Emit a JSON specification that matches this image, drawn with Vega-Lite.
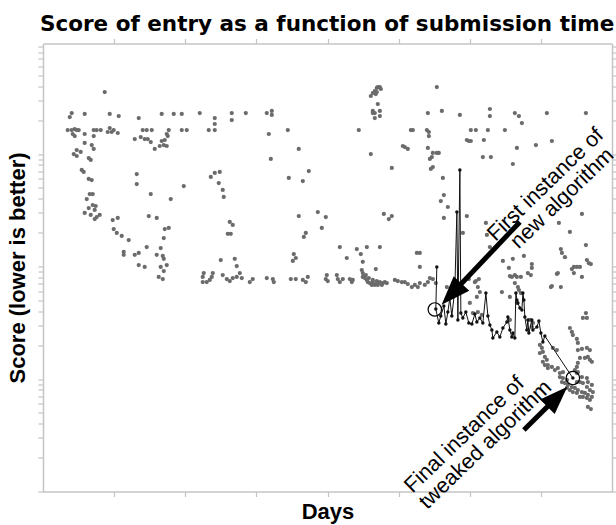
{
"$schema":"https://vega.github.io/schema/vega-lite/v6.json",
"width":569,"height":448,
"autosize":{"type":"none"},
"padding":{"left":43,"top":43.5,"right":4,"bottom":33.5},
"background":"white",
"config":{"view":{"stroke":null},"axis":{"domainColor":"#c4c4c4","domainWidth":1.5,"tickColor":"#c4c4c4","tickWidth":1.2,"labels":false,"grid":false,"titleFont":"Liberation Sans","titleFontSize":22,"titleFontWeight":"bold","titleColor":"#000"}},
"title":{"text":"Score of entry as a function of submission time","anchor":"start","frame":"group","font":"DejaVu Sans","fontSize":21.5,"fontWeight":"bold","color":"#000","baseline":"alphabetic","offset":-15,"dx":-3},
"datasets":{
"gray":[
{"d":0.868,"s":3557},{"d":0.376,"s":2132},{"d":0.404,"s":2314},{"d":0.586,"s":2268},{"d":0.938,"s":2268},{"d":1.065,"s":2176},{"d":1.346,"s":2089},{"d":1.669,"s":2268},{"d":1.838,"s":2268},{"d":1.951,"s":2268},{"d":2.204,"s":2314},{"d":2.415,"s":2089},{"d":2.415,"s":1848},{"d":2.415,"s":1634},{"d":2.654,"s":2314},{"d":2.654,"s":2005},
{"d":0.347,"s":1634},{"d":0.404,"s":1634},{"d":0.446,"s":1668},{"d":0.474,"s":1634},{"d":0.502,"s":1634},{"d":0.418,"s":1506},{"d":0.446,"s":1445},{"d":0.586,"s":1506},{"d":0.713,"s":1634},{"d":0.755,"s":1634},{"d":0.812,"s":1634},{"d":0.713,"s":1445},{"d":0.938,"s":1702},{"d":0.910,"s":1569},{"d":0.966,"s":1569},{"d":0.994,"s":1634},{"d":1.051,"s":1537},{"d":1.290,"s":1359},{"d":1.374,"s":1416},{"d":1.402,"s":1634},{"d":1.458,"s":1634},{"d":1.529,"s":1634},{"d":1.430,"s":1359},{"d":1.473,"s":1359},{"d":1.515,"s":1278},{"d":1.571,"s":1108},{"d":1.641,"s":1178},{"d":1.669,"s":1305},{"d":1.712,"s":1332},{"d":1.740,"s":1506},{"d":1.768,"s":1634},{"d":1.754,"s":1445},{"d":1.698,"s":1202},{"d":1.740,"s":1178},{"d":1.951,"s":1634},{"d":2.021,"s":1634},{"d":2.330,"s":1634},
{"d":0.586,"s":1253},{"d":0.685,"s":1202},{"d":0.713,"s":1108},{"d":0.474,"s":1085},{"d":0.432,"s":1000},{"d":0.530,"s":1042},{"d":0.474,"s":960},{"d":0.643,"s":921},{"d":0.671,"s":885},{"d":0.544,"s":721},{"d":0.572,"s":692},{"d":0.643,"s":600},{"d":0.685,"s":587},{"d":0.657,"s":441},{"d":0.699,"s":441},{"d":0.615,"s":398},{"d":0.643,"s":331},{"d":0.699,"s":352},{"d":0.741,"s":345},{"d":0.727,"s":318},{"d":0.586,"s":299},{"d":0.671,"s":287},{"d":0.727,"s":264},{"d":0.755,"s":275},{"d":0.797,"s":287},{"d":1.318,"s":664},{"d":1.318,"s":541},{"d":1.979,"s":519},{"d":1.515,"s":441},{"d":1.796,"s":398},{"d":2.359,"s":625},{"d":2.415,"s":678},{"d":2.485,"s":692},{"d":2.471,"s":552},{"d":2.527,"s":479},{"d":2.541,"s":415},
{"d":0.980,"s":259},{"d":1.051,"s":270},{"d":0.994,"s":215},{"d":1.037,"s":199},{"d":1.107,"s":187},{"d":1.205,"s":172},{"d":1.487,"s":281},{"d":1.599,"s":270},{"d":1.712,"s":215},{"d":1.768,"s":220},{"d":1.698,"s":179},{"d":1.458,"s":149},{"d":1.655,"s":146},{"d":2.626,"s":249},{"d":2.668,"s":234},{"d":2.598,"s":195},{"d":2.640,"s":195},
{"d":1.135,"s":135},{"d":1.135,"s":127},{"d":1.290,"s":127},{"d":1.346,"s":132},{"d":1.346,"s":103},{"d":1.430,"s":99},{"d":1.599,"s":127},{"d":1.684,"s":124},{"d":1.698,"s":117},{"d":1.740,"s":103},{"d":1.655,"s":99},{"d":1.698,"s":91},{"d":1.627,"s":80.7},{"d":1.684,"s":77.4},{"d":2.499,"s":114},{"d":2.696,"s":117},{"d":2.724,"s":101},{"d":2.260,"s":87.5},{"d":2.246,"s":80.7},{"d":2.246,"s":72.8},{"d":2.302,"s":72.8},{"d":2.345,"s":75.9},{"d":2.373,"s":80.7},{"d":2.387,"s":87.5},{"d":2.527,"s":84.0},{"d":2.584,"s":77.4},{"d":2.626,"s":74.3},{"d":2.668,"s":79.0},{"d":2.724,"s":80.7},
{"d":2.851,"s":2314},{"d":3.146,"s":2314},{"d":3.217,"s":2412},{"d":3.217,"s":2222},{"d":3.175,"s":1506},{"d":3.442,"s":1634},{"d":3.203,"s":903},{"d":3.596,"s":1108},{"d":3.456,"s":612},{"d":3.653,"s":575},{"d":3.737,"s":706},
{"d":4.609,"s":3278},{"d":4.637,"s":3485},{"d":4.665,"s":3631},{"d":4.693,"s":3862},{"d":4.707,"s":3940},{"d":4.736,"s":3940},{"d":4.750,"s":3783},{"d":4.693,"s":3557},{"d":4.679,"s":3414},{"d":4.707,"s":2782},{"d":4.637,"s":2412},{"d":4.665,"s":2314},{"d":4.736,"s":2412},{"d":4.736,"s":2176},{"d":4.665,"s":2089},{"d":4.637,"s":2314},
{"d":4.440,"s":1634},{"d":4.609,"s":1000},{"d":4.904,"s":751},{"d":5.172,"s":1634},{"d":5.200,"s":1634},{"d":5.059,"s":1178},{"d":5.087,"s":1154},{"d":5.129,"s":1108},
{"d":3.596,"s":281},{"d":3.864,"s":305},{"d":3.976,"s":275},{"d":3.920,"s":220},{"d":3.667,"s":183},{"d":3.695,"s":199},{"d":4.792,"s":293},{"d":4.862,"s":264},{"d":4.904,"s":281},
{"d":3.526,"s":129},{"d":3.554,"s":119},{"d":3.512,"s":112},{"d":4.173,"s":149},{"d":4.271,"s":119},{"d":4.412,"s":143},{"d":4.468,"s":129},{"d":4.496,"s":110},{"d":4.553,"s":149},{"d":4.736,"s":149},{"d":4.679,"s":95},{"d":5.256,"s":132},{"d":5.298,"s":132},{"d":5.298,"s":99},
{"d":5.537,"s":3940},{"d":5.411,"s":2314},{"d":5.608,"s":2412},{"d":5.861,"s":2222},{"d":6.283,"s":2512},{"d":6.283,"s":2176},{"d":6.634,"s":2314},{"d":6.691,"s":2176},{"d":6.733,"s":1886},{"d":7.084,"s":2314},{"d":7.633,"s":2314},
{"d":5.397,"s":1634},{"d":5.425,"s":1569},{"d":5.425,"s":1445},{"d":6.015,"s":1634},{"d":6.086,"s":1634},{"d":6.255,"s":1634},{"d":6.494,"s":1634},{"d":5.959,"s":1332},{"d":5.987,"s":1305},{"d":6.015,"s":1305},{"d":6.198,"s":1332},
{"d":5.411,"s":1131},{"d":5.481,"s":1021},{"d":5.537,"s":1021},{"d":5.565,"s":1021},{"d":5.467,"s":940},{"d":5.439,"s":903},{"d":5.481,"s":766},{"d":5.453,"s":736},
{"d":6.184,"s":940},{"d":6.297,"s":940},{"d":6.663,"s":1131},{"d":6.930,"s":1202},{"d":7.155,"s":1305},{"d":6.606,"s":815},
{"d":5.622,"s":612},{"d":5.636,"s":432},{"d":5.593,"s":382},{"d":5.692,"s":338},{"d":5.636,"s":270},{"d":5.903,"s":199},{"d":5.959,"s":281},{"d":6.227,"s":244},{"d":7.253,"s":244},{"d":7.577,"s":293},{"d":7.408,"s":203},{"d":7.633,"s":155},
{"d":7.281,"s":143},{"d":7.296,"s":132},{"d":7.338,"s":121},{"d":7.436,"s":95},{"d":7.464,"s":99},{"d":7.506,"s":99},{"d":7.549,"s":99},{"d":7.464,"s":87.5},{"d":7.647,"s":114},{"d":7.675,"s":107},{"d":7.703,"s":105},
{"d":6.466,"s":112},{"d":6.606,"s":117},{"d":6.761,"s":124},{"d":6.550,"s":97},{"d":6.634,"s":84.0},{"d":6.663,"s":80.7},{"d":6.719,"s":80.7},{"d":6.873,"s":105},{"d":6.873,"s":97},{"d":6.817,"s":87.5},{"d":6.859,"s":84.0},{"d":7.239,"s":87.5},{"d":7.577,"s":80.7},
{"d":5.987,"s":77.4},{"d":6.086,"s":74.3},{"d":6.128,"s":77.4},{"d":7.141,"s":65.7},{"d":6.283,"s":149},{"d":6.241,"s":191},{"d":7.281,"s":65.7},{"d":7.225,"s":85.8},{"d":7.155,"s":67.1},
{"d":2.767,"s":87.5},{"d":2.795,"s":79.0},{"d":2.907,"s":72.8},{"d":2.949,"s":77.4},{"d":3.146,"s":79.0},{"d":3.231,"s":77.4},{"d":3.245,"s":72.8},{"d":3.484,"s":77.4},{"d":3.554,"s":77.4},{"d":3.653,"s":75.9},{"d":3.723,"s":80.7},{"d":3.695,"s":72.8},{"d":3.990,"s":84.0},{"d":3.976,"s":77.4},{"d":4.004,"s":74.3},{"d":4.131,"s":84.0},{"d":4.145,"s":77.4},{"d":4.173,"s":72.8},{"d":4.215,"s":77.4},{"d":4.314,"s":77.4},{"d":4.342,"s":72.8},{"d":4.356,"s":75.9},
{"d":4.482,"s":93},{"d":4.496,"s":87.5},{"d":4.496,"s":80.7},{"d":4.525,"s":79.0},{"d":4.553,"s":75.9},{"d":4.567,"s":72.8},{"d":4.595,"s":71.3},{"d":4.623,"s":68.5},{"d":4.637,"s":72.8},{"d":4.665,"s":68.5},{"d":4.693,"s":71.3},{"d":4.707,"s":68.5},{"d":4.736,"s":72.8},{"d":4.764,"s":68.5},{"d":4.778,"s":71.3},{"d":4.806,"s":72.8},{"d":4.834,"s":71.3},{"d":4.539,"s":84.0},{"d":4.581,"s":79.0},{"d":4.637,"s":75.9},{"d":4.693,"s":74.3},
{"d":4.947,"s":75.9},{"d":4.989,"s":74.3},{"d":5.045,"s":72.8},{"d":5.087,"s":72.8},{"d":5.129,"s":69.9},{"d":5.186,"s":65.7},{"d":5.228,"s":68.5},{"d":5.270,"s":65.7},{"d":5.298,"s":71.3},{"d":5.368,"s":68.5},{"d":5.411,"s":72.8},{"d":5.439,"s":79.0},{"d":5.481,"s":77.4},{"d":5.523,"s":71.3},
{"d":5.678,"s":65.7},{"d":5.748,"s":58.1},{"d":6.072,"s":72.8},{"d":6.114,"s":65.7},{"d":6.142,"s":59.3},{"d":6.100,"s":53.6},{"d":6.001,"s":47.4},{"d":6.044,"s":38.6},{"d":6.114,"s":39.4},{"d":6.170,"s":37.1},{"d":6.452,"s":59.3},{"d":6.564,"s":53.6},{"d":6.663,"s":47.4},{"d":6.592,"s":80.7},{"d":6.634,"s":71.3},{"d":6.677,"s":65.7},{"d":6.564,"s":33.5},{"d":6.564,"s":82.3},{"d":6.691,"s":61.8},{"d":6.719,"s":58.1},{"d":6.845,"s":33.5},{"d":6.888,"s":31.5},{"d":6.873,"s":29.0},
{"d":7.633,"s":38.6},{"d":7.591,"s":34.9},{"d":7.647,"s":34.9},{"d":7.408,"s":28.4},{"d":7.436,"s":26.2},{"d":7.450,"s":24.6},{"d":7.506,"s":22.7},{"d":7.520,"s":20.9},{"d":7.520,"s":18.1},{"d":7.577,"s":18.5},{"d":7.647,"s":18.9},{"d":7.689,"s":18.1},{"d":7.661,"s":15.7},{"d":7.619,"s":15.4},{"d":7.689,"s":14.8},{"d":7.717,"s":14.2},{"d":7.549,"s":15.4},{"d":7.520,"s":13.9},{"d":7.506,"s":12.8},{"d":7.478,"s":12.0},{"d":7.520,"s":11.5},
{"d":6.986,"s":20.1},{"d":7.014,"s":18.9},{"d":7.028,"s":17.4},{"d":6.986,"s":17.0},{"d":7.056,"s":15.7},{"d":7.084,"s":14.8},{"d":7.028,"s":14.2},{"d":7.056,"s":13.3},{"d":7.098,"s":13.3},{"d":7.155,"s":12.8},{"d":7.098,"s":12.5},{"d":7.197,"s":12.0},{"d":7.239,"s":12.5},{"d":7.267,"s":11.3},{"d":7.310,"s":11.5},{"d":7.169,"s":18.9},{"d":7.225,"s":18.1},
{"d":7.267,"s":10.4},{"d":7.310,"s":10.2},{"d":7.366,"s":9.80},{"d":7.296,"s":9.40},{"d":7.338,"s":9.21},{"d":7.380,"s":8.85},{"d":7.436,"s":8.49},{"d":7.478,"s":8.32},{"d":7.520,"s":7.98},{"d":7.577,"s":7.66},{"d":7.619,"s":7.51},{"d":7.661,"s":7.21},{"d":7.717,"s":6.92},{"d":7.689,"s":7.98},{"d":7.647,"s":8.49},{"d":7.591,"s":9.21},{"d":7.549,"s":9.40},{"d":7.506,"s":9.40},{"d":7.647,"s":10.2},{"d":7.661,"s":9.40},{"d":7.717,"s":8.85},{"d":7.689,"s":6.51},{"d":7.647,"s":6.78},{"d":7.591,"s":6.92},{"d":7.549,"s":6.92},{"d":7.506,"s":7.51},{"d":7.450,"s":7.66},{"d":7.408,"s":7.98},{"d":7.366,"s":8.32},{"d":7.731,"s":7.66},{"d":7.661,"s":5.64},{"d":7.577,"s":10.4},{"d":7.506,"s":11.3},{"d":7.703,"s":5.41}
],
"line":[
{"i":1,"d":5.537,"s":99},{"i":2,"d":5.523,"s":41.9},{"i":3,"d":5.565,"s":31.5},{"i":4,"d":5.593,"s":36.3},{"i":5,"d":5.636,"s":44.6},{"i":6,"d":5.664,"s":30.8},{"i":7,"d":5.692,"s":39.4},{"i":8,"d":5.720,"s":52.5},{"i":9,"d":5.748,"s":36.3},{"i":10,"d":5.790,"s":61.8},{"i":11,"d":5.819,"s":305},{"i":12,"d":5.833,"s":33.5},{"i":13,"d":5.861,"s":721},{"i":14,"d":5.875,"s":38.6},{"i":15,"d":5.903,"s":34.9},{"i":16,"d":5.945,"s":39.4},{"i":17,"d":5.987,"s":31.5},{"i":18,"d":6.030,"s":30.8},{"i":19,"d":6.072,"s":37.8},{"i":20,"d":6.100,"s":32.1},{"i":21,"d":6.142,"s":34.9},{"i":22,"d":6.184,"s":31.5},{"i":23,"d":6.227,"s":58.1},{"i":24,"d":6.255,"s":36.3},{"i":25,"d":6.283,"s":30.2},{"i":26,"d":6.311,"s":27.3},{"i":27,"d":6.325,"s":23.1},{"i":28,"d":6.381,"s":26.2},{"i":29,"d":6.423,"s":23.6},{"i":30,"d":6.466,"s":28.4},{"i":31,"d":6.522,"s":32.1},{"i":32,"d":6.536,"s":35.6},{"i":33,"d":6.564,"s":27.3},{"i":34,"d":6.592,"s":23.6},{"i":35,"d":6.606,"s":25.6},{"i":36,"d":6.634,"s":23.1},{"i":37,"d":6.649,"s":58.1},{"i":38,"d":6.663,"s":50.4},{"i":39,"d":6.677,"s":47.4},{"i":40,"d":6.705,"s":42.8},{"i":41,"d":6.733,"s":41.1},{"i":42,"d":6.747,"s":58.1},{"i":43,"d":6.761,"s":50.4},{"i":44,"d":6.775,"s":35.6},{"i":45,"d":6.803,"s":27.3},{"i":46,"d":6.817,"s":33.5},{"i":47,"d":6.831,"s":25.6},{"i":48,"d":6.873,"s":33.5},{"i":49,"d":6.888,"s":27.3},{"i":50,"d":6.944,"s":29.0},{"i":51,"d":6.972,"s":32.8},{"i":52,"d":7.000,"s":25.6},{"i":53,"d":7.028,"s":21.3},{"i":54,"d":7.056,"s":24.1},{"i":55,"d":7.450,"s":10.2}
],
"circles":[{"d":5.509,"s":41.5},{"d":7.450,"s":10.2}],
"arrows":[{"arrow":"first","d":6.705,"s":249,"d2":5.744,"s2":56.9},{"arrow":"final","d":6.761,"s":3.52,"d2":7.232,"s2":6.96}],
"labels":[{"d":7.070,"s":530,"text":"First instance of"},{"d":7.305,"s":400,"text":"new algorithm"},{"d":5.929,"s":3.18,"text":"Final instance of"},{"d":6.226,"s":2.59,"text":"tweaked algorithm"}]
},
"layer":[
{"data":{"name":"gray"},
 "mark":{"type":"point","filled":true,"shape":"circle","size":18,"color":"#6b6b6b","opacity":1,"strokeWidth":0},
 "encoding":{
  "x":{"field":"d","type":"quantitative","scale":{"domain":[0,8],"nice":false,"zero":false},
       "axis":{"orient":"bottom","values":[1,2,3,4,5,6,7],"title":"Days","titlePadding":4,"encode":{"ticks":{"update":{"y2":{"value":-6}}}}}},
  "y":{"field":"s","type":"quantitative","scale":{"type":"log","domain":[1,9600],"nice":false},
       "axis":{"orient":"left","values":[1,2,3,4,5,6,7,8,9,10,20,30,40,50,60,70,80,90,100,200,300,400,500,600,700,800,900,1000,2000,3000,4000,5000,6000,7000,8000,9000],"title":"Score (lower is better)","titlePadding":8,
               "encode":{"ticks":{"update":{"x2":{"signal":"indexof([1,10,100,1000], datum.value) >= 0 ? 7 : 3.5"}}}}}}
 }},
{"data":{"name":"line"},
 "mark":{"type":"line","color":"#111111","strokeWidth":1},
 "encoding":{
  "x":{"field":"d","type":"quantitative","scale":{"domain":[0,8],"nice":false,"zero":false},
       "axis":{"orient":"top","values":[1,2,3,4,5,6,7],"title":null,"encode":{"ticks":{"update":{"y2":{"value":6}}}}}},
  "y":{"field":"s","type":"quantitative","scale":{"type":"log","domain":[1,9600],"nice":false},
       "axis":{"orient":"right","values":[1,2,3,4,5,6,7,8,9,10,20,30,40,50,60,70,80,90,100,200,300,400,500,600,700,800,900,1000,2000,3000,4000,5000,6000,7000,8000,9000],"title":null,
               "encode":{"ticks":{"update":{"x2":{"signal":"indexof([1,10,100,1000], datum.value) >= 0 ? -7 : -3.5"}}}}}},
  "order":{"field":"i","type":"quantitative"}
 }},
{"data":{"name":"line"},
 "mark":{"type":"point","filled":true,"shape":"circle","size":12,"color":"#111111","opacity":1,"strokeWidth":0},
 "encoding":{
  "x":{"field":"d","type":"quantitative","scale":{"domain":[0,8],"nice":false,"zero":false},"axis":null},
  "y":{"field":"s","type":"quantitative","scale":{"type":"log","domain":[1,9600],"nice":false},"axis":null}
 }},
{"data":{"name":"circles"},
 "mark":{"type":"point","filled":false,"shape":"circle","size":180,"stroke":"#000000","strokeWidth":1.2,"opacity":1},
 "encoding":{
  "x":{"field":"d","type":"quantitative","scale":{"domain":[0,8],"nice":false,"zero":false},"axis":null},
  "y":{"field":"s","type":"quantitative","scale":{"type":"log","domain":[1,9600],"nice":false},"axis":null}
 }},
{"data":{"name":"arrows"},
 "mark":{"type":"rule","color":"#000000","strokeWidth":5,"strokeCap":"butt"},
 "encoding":{
  "x":{"field":"d","type":"quantitative","scale":{"domain":[0,8],"nice":false,"zero":false},"axis":null},
  "y":{"field":"s","type":"quantitative","scale":{"type":"log","domain":[1,9600],"nice":false},"axis":null},
  "x2":{"field":"d2"},"y2":{"field":"s2"}
 }},
{"data":{"name":"arrows"},
 "transform":[{"filter":"datum.arrow == 'first'"}],
 "mark":{"type":"point","filled":true,"shape":"M0,-1L0.73,1L-0.73,1Z","size":850,"angle":223,"color":"#000000","opacity":1,"strokeWidth":0},
 "encoding":{
  "x":{"field":"d2","type":"quantitative","scale":{"domain":[0,8],"nice":false,"zero":false},"axis":null},
  "y":{"field":"s2","type":"quantitative","scale":{"type":"log","domain":[1,9600],"nice":false},"axis":null}
 }},
{"data":{"name":"arrows"},
 "transform":[{"filter":"datum.arrow == 'final'"}],
 "mark":{"type":"point","filled":true,"shape":"M0,-1L0.73,1L-0.73,1Z","size":800,"angle":45,"color":"#000000","opacity":1,"strokeWidth":0},
 "encoding":{
  "x":{"field":"d2","type":"quantitative","scale":{"domain":[0,8],"nice":false,"zero":false},"axis":null},
  "y":{"field":"s2","type":"quantitative","scale":{"type":"log","domain":[1,9600],"nice":false},"axis":null}
 }},
{"data":{"name":"labels"},
 "mark":{"type":"text","font":"Liberation Sans","fontSize":21.5,"angle":-44,"align":"center","baseline":"middle","color":"#000000"},
 "encoding":{
  "x":{"field":"d","type":"quantitative","scale":{"domain":[0,8],"nice":false,"zero":false},"axis":null},
  "y":{"field":"s","type":"quantitative","scale":{"type":"log","domain":[1,9600],"nice":false},"axis":null},
  "text":{"field":"text"}
 }}
],
"resolve":{"axis":{"x":"independent","y":"independent"}}
}
